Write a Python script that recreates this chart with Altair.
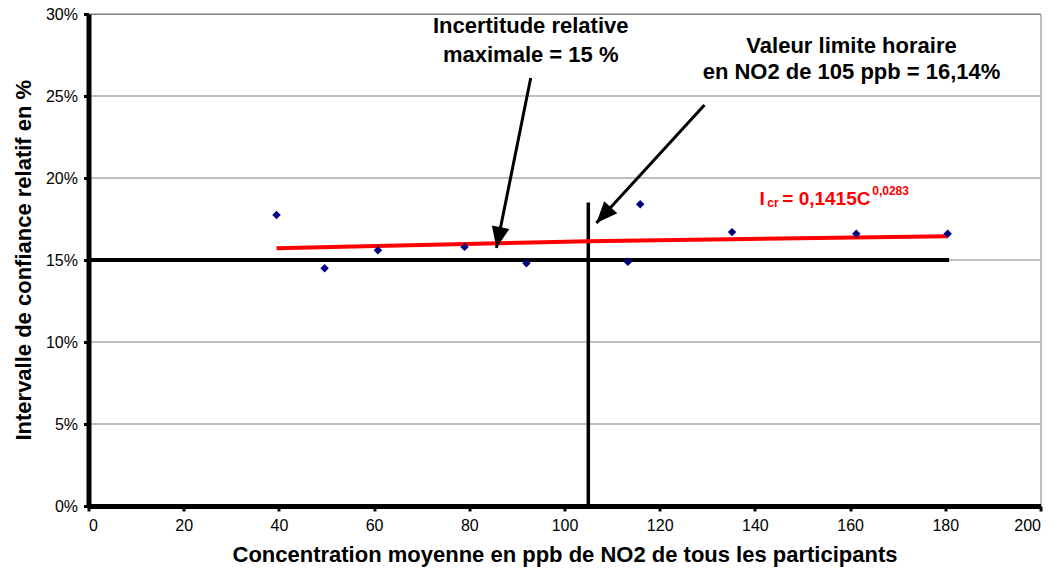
import math
import altair as alt
import pandas as pd

# Measured points
conc = [39.5, 49.6, 60.8, 79.0, 92.0, 113.3, 115.9, 135.2, 161.3, 180.5]
icr = [17.75, 14.5, 15.6, 15.8, 14.8, 14.9, 18.4, 16.7, 16.6, 16.6]

# Power fit line
fit_x = [39.5, 105.0, 180.5]
fit_y = [15.72, 16.14, 16.45]

# Reference lines
hline_x = [0, 180.8]
hline_y = [15, 15]
vline_x = [105, 105]
vline_y = [0, 18.5]

# Axis ticks
x_ticks = list(range(0, 201, 20))
y_ticks = [0, 5, 10, 15, 20, 25, 30]

# Arrows (start -> tip), data coords
arrow_x1 = [92.9, 129.4]
arrow_y1 = [26.1, 24.45]
arrow_x2 = [85.7, 106.7]
arrow_y2 = [15.73, 17.26]

# Annotation texts (alphabetic baselines)
note_text = ["Incertitude relative", "maximale = 15 %",
             "Valeur limite horaire", "en NO2 de 105 ppb = 16,14%"]
note_x = [92.9, 92.9, 160.3, 160.3]
note_y = [28.85, 27.05, 27.63, 26.05]

# Equation pieces
eq_text = ["I", "cr", "= 0,1415C", "0,0283"]
eq_x = [140.95, 142.6, 145.75, 164.65]
eq_y = [18.37, 18.23, 18.37, 18.99]
eq_size = [19, 12, 19, 12]

W, H = 952, 492
XMAX, YMAX = 200, 30
FONT = "Liberation Sans"

xs = alt.Scale(domain=[0, XMAX], nice=False)
ys = alt.Scale(domain=[0, YMAX], nice=False)

pts = pd.DataFrame({"x": conc, "y": icr})
fit = pd.DataFrame({"x": fit_x, "y": fit_y})
hl = pd.DataFrame({"x": hline_x, "y": hline_y})
vl = pd.DataFrame({"x": vline_x, "y": vline_y})
grid = pd.DataFrame({"y": y_ticks[1:]})

angles = []
for a, b, c, d in zip(arrow_x1, arrow_y1, arrow_x2, arrow_y2):
    dxp = (c - a) * W / XMAX
    dyp = -(d - b) * H / YMAX
    angles.append((math.degrees(math.atan2(dxp, -dyp))) % 360)
arr = pd.DataFrame({"x": arrow_x1, "y": arrow_y1, "x2": arrow_x2, "y2": arrow_y2, "angle": angles})
notes = pd.DataFrame({"t": note_text, "x": note_x, "y": note_y})
eq = pd.DataFrame({"t": eq_text, "x": eq_x, "y": eq_y, "s": eq_size})

base_x = alt.X("x:Q", scale=xs, axis=alt.Axis(
    values=x_ticks, grid=False, zindex=2,
    title="Concentration moyenne en ppb de NO2 de tous les participants",
    titleX=476, titleY=55.5, titleBaseline="alphabetic", titleAlign="center"))
base_y = alt.Y("y:Q", scale=ys, axis=alt.Axis(
    values=y_ticks, grid=False, labelExpr="datum.value + '%'", zindex=2,
    title="Intervalle de confiance relatif en %",
    titleX=-58.5, titleY=245.7, titleBaseline="alphabetic", titleAlign="center"))

axis_layer = alt.Chart(pts).mark_point(opacity=0).encode(x=base_x, y=base_y)

grid_layer = alt.Chart(grid).mark_rule(color="#808080", strokeWidth=1).encode(y=alt.Y("y:Q", scale=ys))

hline = alt.Chart(hl).mark_line(color="black", strokeWidth=4).encode(x="x:Q", y="y:Q")
vline = alt.Chart(vl).mark_line(color="black", strokeWidth=3.5).encode(x="x:Q", y="y:Q")
fitline = alt.Chart(fit).mark_line(color="#FF0000", strokeWidth=4).encode(x="x:Q", y="y:Q")
points = alt.Chart(pts).mark_point(shape="diamond", filled=True, color="#000080", size=72, opacity=1).encode(x="x:Q", y="y:Q")

shafts = alt.Chart(arr).mark_rule(color="black", strokeWidth=3).encode(
    x="x:Q", y="y:Q", x2="x2:Q", y2="y2:Q")
heads = alt.Chart(arr).mark_point(
    shape="M0,0L-0.42,1L0.42,1Z", filled=True, color="black", size=1800, opacity=1
).encode(x="x2:Q", y="y2:Q", angle=alt.Angle("angle:Q", scale=None))

note_layer = alt.Chart(notes).mark_text(
    font=FONT, fontSize=22, fontWeight="bold", color="black", align="center", baseline="alphabetic"
).encode(x="x:Q", y="y:Q", text="t:N")

eq_layer = alt.Chart(eq).mark_text(
    font=FONT, fontWeight="bold", color="#FF0000", align="left", baseline="alphabetic"
).encode(x="x:Q", y="y:Q", text="t:N", size=alt.Size("s:Q", scale=None))

chart = alt.layer(
    axis_layer, grid_layer, hline, vline, fitline, points, shafts, heads, note_layer, eq_layer
).properties(
    width=W, height=H,
    autosize=alt.AutoSizeParams(type="none"),
    padding={"left": 80.5, "top": 6, "right": 8, "bottom": 60.5},
    background="white",
).configure_view(
    stroke="#808080", strokeWidth=1
).configure_axis(
    labelFont=FONT, labelFontSize=16, labelColor="black",
    titleFont=FONT, titleFontSize=22, titleFontWeight="bold", titleColor="black",
    domainColor="black", domainWidth=5, tickColor="black", tickWidth=3, tickSize=5,
    labelPadding=6,
)

chart.save("out.html", embed_options={"renderer": "svg", "actions": False})
